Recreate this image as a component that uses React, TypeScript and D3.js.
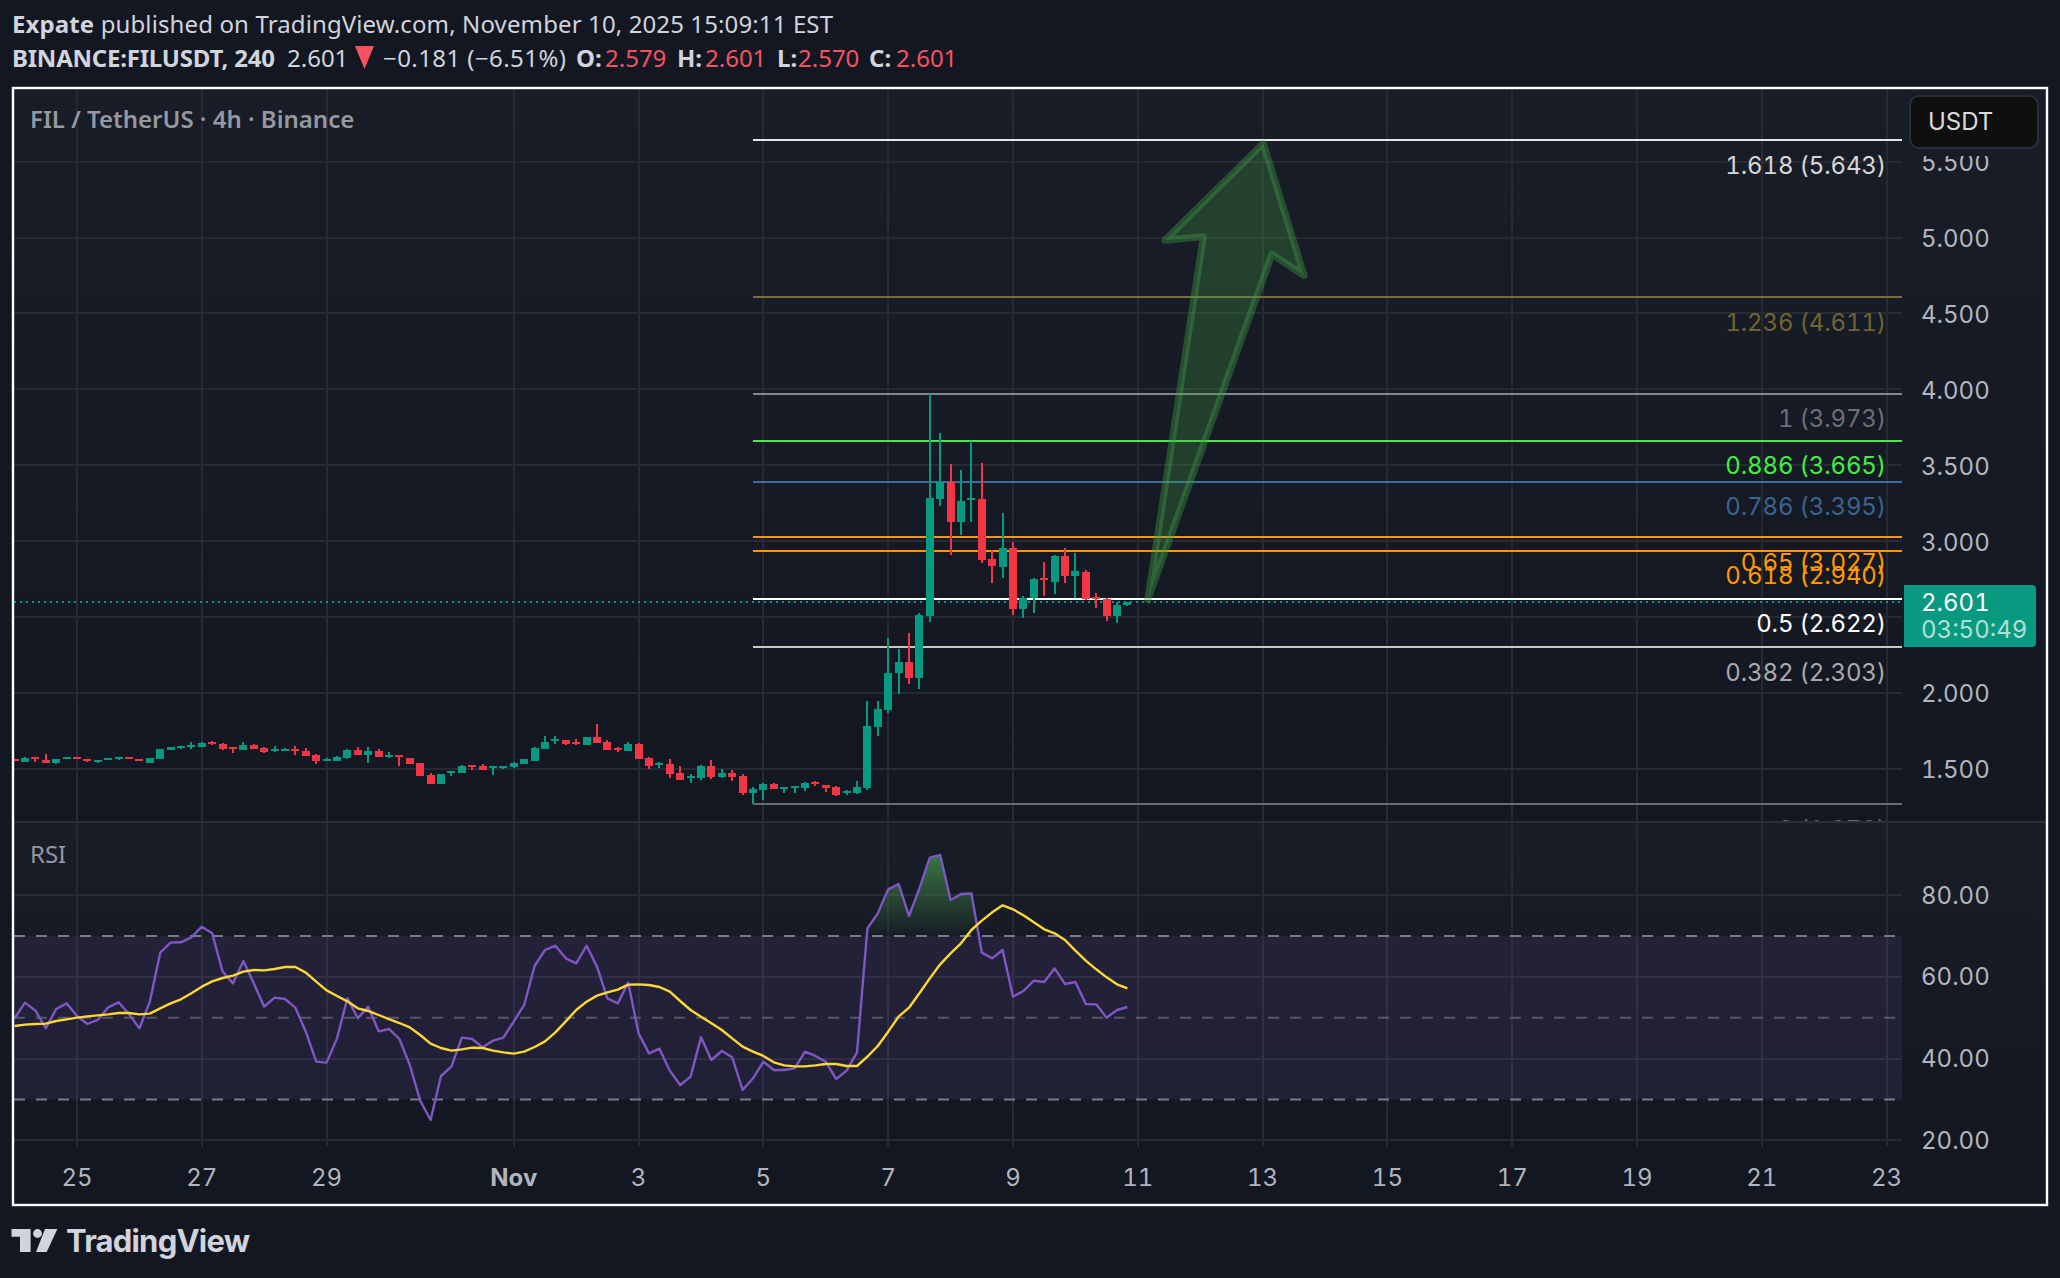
import React from "react";
import * as d3 from "d3";

// candle values, 4h bars
const opens = [
  1.564,1.544,1.577,1.557,1.537,1.564,1.577,1.564,1.544,1.557,
  1.564,1.577,1.564,1.537,1.564,1.623,1.636,1.643,1.643,1.676,
  1.663,1.643,1.623,1.656,1.636,1.616,1.616,1.630,1.616,1.590,
  1.551,1.551,1.570,1.623,1.590,1.616,1.577,1.590,1.570,1.537,
  1.458,1.399,1.471,1.471,1.524,1.518,1.504,1.504,1.511,1.531,
  1.551,1.630,1.682,1.689,1.676,1.656,1.709,1.676,1.638,1.616,
  1.663,1.570,1.524,1.531,1.471,1.438,1.438,1.518,1.445,1.471,
  1.452,1.340,1.359,1.399,1.366,1.373,1.373,1.412,1.392,1.379,
  1.340,1.340,1.373,1.775,1.887,2.131,2.203,2.098,2.506,3.277,
  3.389,3.125,3.270,3.277,2.882,2.829,2.954,2.552,2.625,2.756,
  2.730,2.901,2.770,2.796,2.631,2.618,2.506,2.579,
];
const highs = [
  1.564,1.577,1.577,1.597,1.564,1.577,1.577,1.564,1.557,1.570,
  1.577,1.577,1.564,1.570,1.630,1.643,1.649,1.676,1.676,1.682,
  1.669,1.643,1.676,1.663,1.643,1.649,1.636,1.649,1.636,1.597,
  1.570,1.584,1.630,1.643,1.643,1.630,1.610,1.590,1.570,1.537,
  1.471,1.465,1.485,1.524,1.524,1.531,1.518,1.518,1.544,1.564,
  1.643,1.715,1.715,1.689,1.696,1.709,1.794,1.689,1.643,1.676,
  1.669,1.577,1.544,1.564,1.518,1.465,1.524,1.557,1.498,1.491,
  1.465,1.379,1.405,1.405,1.379,1.386,1.412,1.419,1.392,1.386,
  1.359,1.419,1.946,1.946,2.361,2.289,2.394,2.526,3.969,3.712,
  3.508,3.468,3.659,3.514,2.941,3.185,2.994,2.638,2.756,2.862,
  2.908,2.954,2.921,2.809,2.658,2.625,2.598,2.601,
];
const lows = [
  1.551,1.544,1.544,1.537,1.531,1.564,1.564,1.544,1.537,1.557,
  1.557,1.564,1.551,1.537,1.564,1.623,1.630,1.630,1.643,1.656,
  1.623,1.603,1.623,1.630,1.603,1.610,1.616,1.590,1.584,1.531,
  1.551,1.551,1.564,1.590,1.537,1.577,1.570,1.518,1.531,1.452,
  1.399,1.399,1.452,1.471,1.491,1.491,1.458,1.498,1.504,1.531,
  1.551,1.630,1.663,1.656,1.656,1.656,1.669,1.623,1.610,1.616,
  1.564,1.498,1.504,1.438,1.425,1.405,1.425,1.432,1.438,1.419,
  1.326,1.267,1.293,1.366,1.340,1.340,1.353,1.386,1.346,1.320,
  1.326,1.333,1.359,1.715,1.867,1.992,2.058,2.025,2.467,3.231,
  2.908,3.040,3.125,2.855,2.724,2.756,2.513,2.493,2.526,2.638,
  2.651,2.724,2.625,2.611,2.559,2.473,2.460,2.570,
];
const closes = [
  1.551,1.568,1.564,1.537,1.564,1.577,1.564,1.551,1.557,1.570,
  1.577,1.564,1.551,1.570,1.630,1.643,1.649,1.656,1.669,1.663,
  1.630,1.630,1.656,1.630,1.610,1.630,1.630,1.616,1.584,1.551,
  1.564,1.577,1.623,1.590,1.616,1.577,1.590,1.577,1.531,1.452,
  1.399,1.465,1.485,1.518,1.511,1.491,1.518,1.518,1.537,1.564,
  1.636,1.676,1.696,1.663,1.663,1.709,1.669,1.623,1.625,1.663,
  1.564,1.518,1.537,1.465,1.425,1.452,1.518,1.445,1.471,1.445,
  1.340,1.366,1.399,1.366,1.379,1.386,1.405,1.399,1.373,1.326,
  1.353,1.379,1.781,1.893,2.131,2.203,2.098,2.513,3.284,3.389,
  3.125,3.264,3.284,2.875,2.836,2.954,2.552,2.625,2.750,2.743,
  2.901,2.770,2.803,2.618,2.618,2.506,2.579,2.601,
];

const rsi = [
  49.85,53.68,51.72,47.40,52.13,53.51,50.42,48.46,49.44,52.53,
  53.76,50.90,47.40,53.92,65.90,68.35,68.43,69.65,72.26,70.63,
  61.26,58.40,63.86,58.40,52.70,54.90,54.57,52.45,46.58,39.25,
  39.01,44.95,54.74,49.85,52.70,46.67,47.24,44.79,38.44,29.71,
  24.99,35.75,38.03,45.12,44.79,42.75,44.38,45.12,49.11,53.11,
  62.64,66.55,67.61,64.52,63.29,67.61,62.48,54.74,53.51,58.57,
  46.18,41.29,42.43,37.05,33.55,35.58,45.20,39.66,41.86,40.31,
  32.32,35.18,39.25,37.21,37.21,37.62,41.70,40.64,39.25,35.01,
  37.05,41.53,71.85,75.52,81.39,82.69,74.87,81.63,89.13,89.78,
  78.78,80.24,80.41,65.90,64.52,66.55,55.14,56.53,59.05,58.73,
  62.07,58.24,58.73,53.35,53.27,50.01,51.88,52.62,
];
const rsiMa = [
  47.97,48.30,48.46,48.54,49.19,49.60,50.01,50.33,50.58,50.82,
  51.15,51.15,50.82,50.99,52.29,53.51,54.49,55.96,57.59,58.89,
  59.71,60.28,61.26,61.66,61.58,61.91,62.40,62.40,61.01,58.81,
  56.69,55.31,54.00,52.29,51.64,50.66,49.68,48.70,47.64,45.77,
  43.65,42.59,41.94,42.27,42.67,42.59,41.94,41.53,41.21,41.70,
  42.84,44.22,46.42,49.11,51.88,53.92,55.39,56.20,56.85,58.08,
  58.16,58.00,57.51,56.36,54.08,51.88,50.25,48.62,46.99,44.95,
  42.92,41.70,40.64,39.09,38.35,38.11,38.11,38.35,38.68,38.68,
  38.19,38.19,40.47,43.08,46.58,50.25,52.45,55.96,59.62,63.05,
  65.74,68.18,71.44,73.72,75.76,77.47,76.50,75.03,73.32,71.61,
  70.63,69.00,66.39,63.94,61.83,59.87,58.16,57.18,
];

const fibRatios = ["1.618", "1.236", "1", "0.886", "0.786", "0.65", "0.618", "0.5", "0.382", "0"];
const fibPrices = [5.643, 4.611, 3.973, 3.665, 3.395, 3.027, 2.94, 2.622, 2.303, 1.27];
const fibColors = ["#e6e6e6", "#7a6c32", "#85858f", "#3ff03f", "#3f6c98", "#ff9800", "#ff9800", "#ffffff", "#c8c8c8", "#6a6a70"];
const fibLabelColors = ["#d6d6d6", "#6f6433", "#6c6e78", "#3ff03f", "#3a6491", "#ff9800", "#ff9800", "#ffffff", "#aaaaae", "#6a6a70"];

const priceTicks = [5.5, 5, 4.5, 4, 3.5, 3, 2.5, 2, 1.5];
const priceLabels = ["5.500", "5.000", "4.500", "4.000", "3.500", "3.000", "", "2.000", "1.500"];
const rsiTicks = [80, 60, 40, 20];
const rsiBands = [70, 50, 30];

const dayLabels = ["25", "27", "29", "Nov", "3", "5", "7", "9", "11", "13", "15", "17", "19", "21", "23"];
const dayBars = [6, 18, 30, 48, 60, 72, 84, 96, 108, 120, 132, 144, 156, 168, 180];

// arrow drawing, in bar index / price
const arrowBars = [108.96, 114.3, 110.6, 120.07, 124, 120.9];
const arrowPrices = [2.613, 5.006, 4.983, 5.621, 4.75, 4.89];

const lastPrice = 2.601;
const fibStartBar = 71;

const UP = "#089981";
const DOWN = "#f23645";
const GRID = "#262a35";
const AXIS_TEXT = "#b2b5be";
const FONT = "Inter, sans-serif";
const HEAD_FONT = "'Noto Sans', sans-serif";

const paneLeft = 14;
const paneRight = 1902;

const x = d3.scaleLinear().domain([0, 107]).range([14.6, 1127.4]);
const yPrice = d3.scaleLinear().domain([1.5, 5.5]).range([768.7, 161.7]);
const yRsi = d3.scaleLinear().domain([20, 80]).range([1140.4, 895]);

const rsiLine = d3.line<number>().x((_, i) => x(i)).y((d) => yRsi(d));
const rsiArea = d3.area<number>().x((_, i) => x(i)).y0(yRsi(70)).y1((d) => yRsi(d));
const arrowPath = d3.line<number>().x((b) => x(b)).y((_, i) => yPrice(arrowPrices[i])).curve(d3.curveLinearClosed);

export default function App() {
  const candleW = 8;
  return (
    <svg
      width={2060}
      height={1278}
      viewBox="0 0 2060 1278"
      style={{ position: "absolute", left: 0, top: 0, display: "block", background: "#131722", fontVariantNumeric: "tabular-nums" }}
    >
      <defs>
        <linearGradient id="paneBg" x1="0" y1="0" x2="0" y2="1">
          <stop offset="0" stopColor="#191d28" />
          <stop offset="1" stopColor="#131722" />
        </linearGradient>
        <linearGradient id="obFill" gradientUnits="userSpaceOnUse" x1="0" y1={yRsi(90)} x2="0" y2={yRsi(70)}>
          <stop offset="0" stopColor="#4caf50" stopOpacity={0.62} />
          <stop offset="1" stopColor="#4caf50" stopOpacity={0} />
        </linearGradient>
        <clipPath id="priceClip">
          <rect x={paneLeft} y={88} width={paneRight - paneLeft} height={733} />
        </clipPath>
        <clipPath id="rsiClip">
          <rect x={paneLeft} y={822} width={paneRight - paneLeft} height={325} />
        </clipPath>
        <clipPath id="obClip">
          <rect x={paneLeft} y={822} width={paneRight - paneLeft} height={yRsi(70) - 822} />
        </clipPath>
      </defs>

      {/* header */}
      <g fontFamily={HEAD_FONT} fontSize={24} fill="#d1d4dc" dominantBaseline="central">
        <text x={12} y={23} textLength={821} lengthAdjust="spacing">
          <tspan fontWeight={700}>Expate</tspan> published on TradingView.com, November 10, 2025 15:09:11 EST
        </text>
        <text x={12} y={57} fontWeight={700} textLength={263}>BINANCE:FILUSDT, 240</text>
        <text x={287} y={57}>2.601</text>
        <path d="M355,46H374L364.5,69Z" fill="#f7525f" />
        <text x={383} y={57} textLength={183}>−0.181 (−6.51%)</text>
        <text x={576} y={57} fontWeight={700}>O:</text>
        <text x={605} y={57} fill="#f7525f">2.579</text>
        <text x={677} y={57} fontWeight={700}>H:</text>
        <text x={705} y={57} fill="#f7525f">2.601</text>
        <text x={777} y={57} fontWeight={700}>L:</text>
        <text x={798} y={57} fill="#f7525f">2.570</text>
        <text x={869} y={57} fontWeight={700}>C:</text>
        <text x={896} y={57} fill="#f7525f">2.601</text>
      </g>

      {/* panes */}
      <rect x={13} y={88} width={2033} height={734} fill="url(#paneBg)" />
      <rect x={13} y={822} width={2033} height={325} fill="url(#paneBg)" />

      {/* grid */}
      <g stroke={GRID} strokeWidth={2} shapeRendering="crispEdges">
        {dayBars.map((b) => (
          <line key={b} x1={x(b)} x2={x(b)} y1={88} y2={1147} />
        ))}
        {priceTicks.map((t) => (
          <line key={t} x1={paneLeft} x2={paneRight} y1={yPrice(t)} y2={yPrice(t)} />
        ))}
        {rsiTicks.map((t) => (
          <line key={t} x1={paneLeft} x2={paneRight} y1={yRsi(t)} y2={yRsi(t)} />
        ))}
        <line x1={13} x2={2046} y1={822} y2={822} stroke="#2a2e39" />
      </g>

      {/* last price line */}
      <line
        x1={paneLeft}
        x2={1904}
        y1={yPrice(lastPrice) + 0.5}
        y2={yPrice(lastPrice) + 0.5}
        stroke={UP}
        strokeWidth={2}
        strokeDasharray="2 4"
        shapeRendering="crispEdges"
      />

      {/* fib levels */}
      <g clipPath="url(#priceClip)">
        {fibPrices.map((p, i) => (
          <g key={fibRatios[i]}>
            <line
              x1={x(fibStartBar)}
              x2={paneRight}
              y1={yPrice(p) + 0.5}
              y2={yPrice(p) + 0.5}
              stroke={fibColors[i]}
              strokeWidth={2}
              shapeRendering="crispEdges"
            />
            <text
              x={1886}
              y={yPrice(p) + 25.5}
              textAnchor="end"
              dominantBaseline="central"
              fontFamily={FONT}
              fontSize={24}
              letterSpacing={-0.15}
              fill={fibLabelColors[i]}
            >
              {`${fibRatios[i]} (${p.toFixed(3)})`}
            </text>
          </g>
        ))}
      </g>

      {/* candles */}
      <g clipPath="url(#priceClip)" shapeRendering="crispEdges">
        {opens.map((o, i) => {
          const c = closes[i];
          const color = c >= o ? UP : DOWN;
          const top = yPrice(Math.max(o, c));
          const bottom = yPrice(Math.min(o, c));
          return (
            <g key={i} fill={color}>
              <rect x={x(i) - 1} y={yPrice(highs[i])} width={2} height={yPrice(lows[i]) - yPrice(highs[i])} />
              <rect x={x(i) - candleW / 2} y={top} width={candleW} height={Math.max(bottom - top, 2)} />
            </g>
          );
        })}
      </g>

      {/* arrow */}
      <path
        d={arrowPath(arrowBars) ?? ""}
        fill="#43a047"
        fillOpacity={0.28}
        stroke="#43a047"
        strokeOpacity={0.38}
        strokeWidth={7}
        strokeLinejoin="round"
      />

      {/* rsi */}
      <g clipPath="url(#rsiClip)">
        <rect x={paneLeft} y={yRsi(70)} width={paneRight - paneLeft} height={yRsi(30) - yRsi(70)} fill="#7e57c2" fillOpacity={0.12} />
        {rsiBands.map((b) => (
          <line
            key={b}
            x1={paneLeft}
            x2={paneRight}
            y1={yRsi(b)}
            y2={yRsi(b)}
            stroke="#787b86"
            strokeOpacity={b === 50 ? 0.6 : 1}
            strokeWidth={2}
            strokeDasharray="11 11"
          />
        ))}
        <path d={rsiArea(rsi) ?? ""} fill="url(#obFill)" clipPath="url(#obClip)" />
        <path d={rsiLine(rsi) ?? ""} fill="none" stroke="#7e57c2" strokeWidth={2.4} strokeLinejoin="round" />
        <path d={rsiLine(rsiMa) ?? ""} fill="none" stroke="#fdd835" strokeWidth={2.4} strokeLinejoin="round" />
      </g>

      {/* pane titles */}
      <text x={30} y={118.5} fontFamily={HEAD_FONT} fontSize={24} fontWeight={600} fill="#9598a1" dominantBaseline="central">
        FIL / TetherUS · 4h · Binance
      </text>
      <text x={30} y={853.5} fontFamily={HEAD_FONT} fontSize={24} fill="#9598a1" dominantBaseline="central">
        RSI
      </text>

      {/* price axis */}
      <g fontFamily={FONT} fontSize={24} fill={AXIS_TEXT} dominantBaseline="central">
        {priceTicks.map((t, i) =>
          priceLabels[i] ? (
            <text key={t} x={1921} y={yPrice(t) + 1}>
              {priceLabels[i]}
            </text>
          ) : null
        )}
        {rsiTicks.map((t) => (
          <text key={t} x={1921} y={yRsi(t)}>
            {t.toFixed(2)}
          </text>
        ))}
      </g>

      {/* currency box */}
      <rect x={1904} y={89} width={140} height={67} fill="#181c27" />
      <rect x={1910} y={96} width={128} height={52} rx={9} fill="#0f0f0f" stroke="#2a2e39" strokeWidth={2} />
      <text x={1928} y={121.5} fontFamily={FONT} fontSize={24} fill="#dbdbdb" dominantBaseline="central">
        USDT
      </text>

      {/* last price tag */}
      <path d="M1904,585H2032a4,4 0 0 1 4,4V643a4,4 0 0 1 -4,4H1904Z" fill={UP} />
      <text x={1921} y={602} fontFamily={FONT} fontSize={24} fill="#ffffff" dominantBaseline="central">
        {lastPrice.toFixed(3)}
      </text>
      <text x={1921} y={629} fontFamily={FONT} fontSize={24} fill="#ffffff" fillOpacity={0.7} dominantBaseline="central">
        03:50:49
      </text>

      {/* time axis */}
      <g fontFamily={FONT} fontSize={24} fill={AXIS_TEXT} textAnchor="middle" dominantBaseline="central">
        {dayBars.map((b, i) => (
          <text key={b} x={x(b)} y={1177} fontWeight={dayLabels[i] === "Nov" ? 700 : 400}>
            {dayLabels[i]}
          </text>
        ))}
      </g>

      {/* frame */}
      <rect x={13} y={88} width={2034} height={1117} fill="none" stroke="#ffffff" strokeWidth={2.4} />

      {/* logo */}
      <g fill="#d1d4dc">
        <path d="M11.5,1229H30.6V1252H20V1236.7H11.5Z" />
        <circle cx={37.5} cy={1233.5} r={4.4} />
        <path d="M45,1229H57.4L46.7,1252H36Z" />
        <text x={66} y={1252} fontFamily={FONT} fontSize={31} fontWeight={700} textLength={184}>
          TradingView
        </text>
      </g>
    </svg>
  );
}
